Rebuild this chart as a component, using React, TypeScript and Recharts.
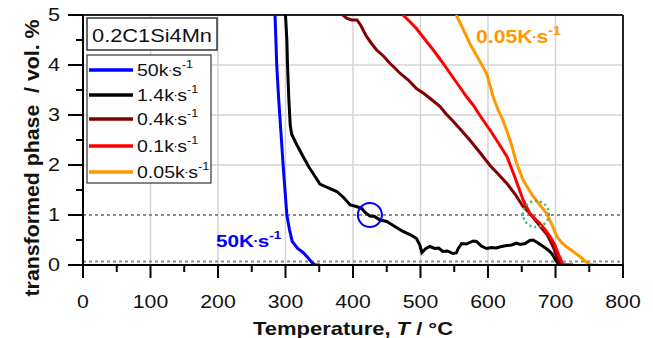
import React from 'react';
import { LineChart, Line, XAxis, YAxis, ReferenceLine, ReferenceDot } from 'recharts';

// temperature (°C) / transformed phase (vol. %) per cooling rate
const rate50T = [284.5, 287, 290, 294, 297, 302, 306, 310, 318, 326, 333, 339, 344, 351];
const rate50V = [5.0, 4.0, 3.3, 2.5, 1.9, 1.0, 0.7, 0.47, 0.33, 0.25, 0.15, 0.05, 0.0, 0.0];

const rate14T = [300, 302, 303, 305, 307, 309, 315, 326, 335, 341, 351, 362, 376, 386, 396, 405, 413, 418, 425, 432, 440, 450, 462, 474, 486, 494, 499, 502, 508, 514, 521, 527, 533, 540, 548, 553, 556, 561, 568, 573, 578, 583, 590, 598, 605, 612, 620, 628, 635, 642, 648, 655, 662, 667, 673, 682, 690, 695, 700, 704, 710, 726];
const rate14V = [5.0, 4.5, 4.0, 3.3, 2.8, 2.62, 2.45, 2.17, 1.95, 1.83, 1.62, 1.55, 1.47, 1.35, 1.2, 1.17, 1.13, 1.05, 0.98, 0.97, 0.9, 0.87, 0.77, 0.67, 0.6, 0.53, 0.4, 0.25, 0.33, 0.37, 0.33, 0.34, 0.27, 0.28, 0.23, 0.24, 0.33, 0.43, 0.42, 0.45, 0.48, 0.47, 0.38, 0.33, 0.35, 0.34, 0.37, 0.39, 0.4, 0.44, 0.41, 0.43, 0.49, 0.5, 0.45, 0.37, 0.29, 0.22, 0.1, 0.03, 0.0, 0.0];

const rate04T = [385, 391, 398, 406, 412, 420, 428, 435, 445, 455, 462, 470, 482, 494, 506, 519, 529, 538, 548, 560, 573, 588, 603, 615, 628, 640, 652, 662, 670, 677, 688, 697, 703, 707, 712];
const rate04V = [5.0, 4.93, 4.9, 4.9, 4.78, 4.57, 4.42, 4.3, 4.18, 4.03, 3.94, 3.83, 3.7, 3.53, 3.42, 3.28, 3.17, 3.02, 2.88, 2.7, 2.5, 2.25, 1.99, 1.82, 1.63, 1.42, 1.17, 1.03, 0.9, 0.78, 0.6, 0.35, 0.12, 0.02, 0.0];

const rate01T = [474, 484, 494, 506, 519, 531, 544, 556, 568, 578, 590, 603, 615, 628, 640, 652, 662, 670, 677, 685, 692, 699, 704, 708, 711, 716];
const rate01V = [5.0, 4.87, 4.73, 4.52, 4.3, 4.08, 3.83, 3.6, 3.37, 3.2, 2.95, 2.7, 2.45, 2.17, 1.75, 1.3, 1.03, 0.92, 0.83, 0.7, 0.57, 0.4, 0.23, 0.1, 0.0, 0.0];

const rate005T = [553, 562, 573, 586, 598, 608, 615, 622, 628, 635, 642, 652, 660, 667, 677, 687, 695, 702, 709, 716, 726, 736, 742, 748, 755, 763];
const rate005V = [5.0, 4.75, 4.43, 4.12, 3.83, 3.35, 3.1, 2.9, 2.68, 2.4, 2.05, 1.7, 1.52, 1.37, 1.2, 1.03, 0.8, 0.57, 0.45, 0.37, 0.27, 0.17, 0.1, 0.03, 0.0, 0.0];

const legendLabels = ['50k·s', '1.4k·s', '0.4k·s', '0.1k·s', '0.05k·s'];
const colors = ['#0000ff', '#000000', '#800000', '#ff0000', '#ff9900'];

const xTicks = [0, 50, 100, 150, 200, 250, 300, 350, 400, 450, 500, 550, 600, 650, 700, 750, 800];
const yTicks = [0, 0.5, 1, 1.5, 2, 2.5, 3, 3.5, 4, 4.5, 5];
const gridX = [100, 200, 300, 400, 500, 600, 700];
const gridY = [2, 3, 4];
const dottedY = [1, 0.07];

const toRows = (t: number[], v: number[]) => t.map((T, i) => ({ T, v: v[i] }));
const series = [
  toRows(rate50T, rate50V),
  toRows(rate14T, rate14V),
  toRows(rate04T, rate04V),
  toRows(rate01T, rate01V),
  toRows(rate005T, rate005V),
];

const font = 'Liberation Sans, Arial, sans-serif';

// "k·s" with a small tight middle dot and a raised -1
const Unit = ({ label, size, supSize }: { label: string; size: number; supSize: number }) => {
  const [head, tail] = label.split('·');
  return (
    <>
      {head}
      <tspan fontSize={size * 0.7} dx={-0.5} dy={-2}>·</tspan>
      <tspan fontSize={size} dx={-0.5} dy={2}>{tail}</tspan>
      <tspan fontSize={supSize} dy={-8}>-1</tspan>
    </>
  );
};

const YTick = (props: any) => {
  const { x, y, payload } = props;
  const major = payload.value % 1 === 0;
  return (
    <g>
      <line x1={x - (major ? 15 : 7)} x2={x} y1={y} y2={y} stroke="#000" strokeWidth={2} />
      {major && (
        <text transform={`translate(${x - 23},${y}) scale(1.2,1)`} textAnchor="end" dy="0.36em" fontSize={18} fill="#111" fontFamily={font}>
          {payload.value}
        </text>
      )}
    </g>
  );
};

const XTick = (props: any) => {
  const { x, y, payload } = props;
  const major = payload.value % 100 === 0;
  return (
    <g>
      <line x1={x} x2={x} y1={y} y2={y + (major ? 13 : 7)} stroke="#000" strokeWidth={2} />
      {major && (
        <text transform={`translate(${x},${y + 43}) scale(1.18,1)`} textAnchor="middle" fontSize={18} fill="#111" fontFamily={font}>
          {payload.value}
        </text>
      )}
    </g>
  );
};

const legendRows = [70, 95, 119, 146, 172];

const App = () => {
  return (
    <div style={{ position: 'relative', width: 653, height: 338 }}>
      <style>{'body{margin:0}'}</style>
      <LineChart width={653} height={338} margin={{ top: 15, right: 30, bottom: 0, left: 0 }}>
        {gridX.map((g) => (
          <ReferenceLine key={'gx' + g} x={g} stroke="#d4d4d4" strokeWidth={1.5} />
        ))}
        {gridY.map((g) => (
          <ReferenceLine key={'gy' + g} y={g} stroke="#d4d4d4" strokeWidth={1.5} />
        ))}
        {dottedY.map((g) => (
          <ReferenceLine key={'dy' + g} y={g} stroke="#8c8c8c" strokeWidth={2} strokeDasharray="3 3" />
        ))}
        <ReferenceLine y={5} stroke="#222" strokeWidth={2} />
        <ReferenceLine x={800} stroke="#222" strokeWidth={2} />
        <XAxis
          type="number"
          dataKey="T"
          domain={[0, 800]}
          ticks={xTicks}
          interval={0}
          height={73}
          tickSize={0}
          tickMargin={0}
          tickLine={false}
          tick={<XTick />}
          axisLine={{ stroke: '#000', strokeWidth: 2 }}
          allowDataOverflow
        />
        <YAxis
          type="number"
          domain={[0, 5]}
          ticks={yTicks}
          interval={0}
          width={83}
          tickSize={0}
          tickMargin={0}
          tickLine={false}
          tick={<YTick />}
          axisLine={{ stroke: '#000', strokeWidth: 2 }}
          allowDataOverflow
        />
        {series.map((d, i) => (
          <Line
            key={legendLabels[i]}
            data={d}
            dataKey="v"
            type="linear"
            stroke={colors[i]}
            strokeWidth={3}
            dot={false}
            isAnimationActive={false}
          />
        ))}
        <ReferenceDot x={425} y={1} r={12} fill="none" stroke="#0000ff" strokeWidth={2} />
        <ReferenceDot x={671} y={1.02} r={13} fill="none" stroke="#3cb371" strokeWidth={2.5} strokeDasharray="2 3" />
      </LineChart>
      <svg width={653} height={338} style={{ position: 'absolute', left: 0, top: 0, pointerEvents: 'none' }} fontFamily={font}>
        <text transform="translate(39,158) rotate(-90)" textAnchor="middle" fontWeight="bold" fontSize={20} fill="#111" textLength={277} lengthAdjust="spacingAndGlyphs" style={{ whiteSpace: 'pre' }}>
          transformed phase  / vol. %
        </text>
        <text x={353} y={335} textAnchor="middle" fontWeight="bold" fontSize={19} fill="#111" textLength={200} lengthAdjust="spacingAndGlyphs" style={{ whiteSpace: 'pre' }}>
          Temperature, <tspan fontStyle="italic">T</tspan> / °C
        </text>

        <rect x={87} y={18} width={130} height={32} fill="#fff" stroke="#333" strokeWidth={1.5} />
        <text x={92} y={42} fontSize={19} fill="#111" textLength={120} lengthAdjust="spacingAndGlyphs">0.2C1Si4Mn</text>

        <rect x={87} y={55} width={124} height={128} fill="#fff" stroke="#333" strokeWidth={1.2} />
        {legendLabels.map((l, i) => (
          <g key={l}>
            <line x1={89} x2={133} y1={legendRows[i]} y2={legendRows[i]} stroke={colors[i]} strokeWidth={3.5} />
            <text transform={`translate(137,${legendRows[i] + 6}) scale(1.15,1)`} fontSize={17} fill="#111">
              <Unit label={l} size={17} supSize={11} />
            </text>
          </g>
        ))}

        <text transform="translate(476,43) scale(1.18,1)" fontWeight="bold" fontSize={18} fill="#ff9900">
          <Unit label="0.05K·s" size={18} supSize={12} />
        </text>
        <text transform="translate(216,247) scale(1.22,1)" fontWeight="bold" fontSize={17} fill="#0000ff">
          <Unit label="50K·s" size={17} supSize={11} />
        </text>
      </svg>
    </div>
  );
};

export default App;
